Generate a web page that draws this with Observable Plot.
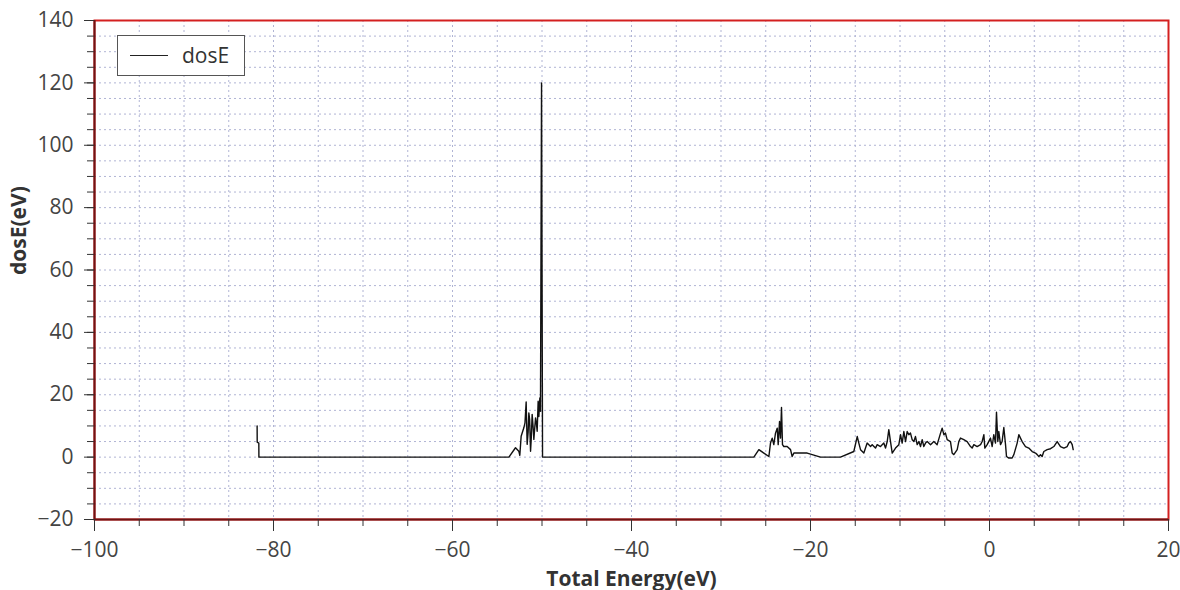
<!DOCTYPE html>
<html>
<head>
<meta charset="utf-8">
<script src="https://cdn.jsdelivr.net/npm/d3@7"></script>
<script src="https://cdn.jsdelivr.net/npm/@observablehq/plot@0.6"></script>
<style>
  html, body { margin: 0; padding: 0; background: #fff; }
  #wrap { position: relative; width: 1180px; height: 590px; font-family: "Open Sans", "Noto Sans", sans-serif; }
  #legend { position: absolute; left: 117px; top: 35px; width: 126px; height: 39px; border: 1.5px solid #555; background: #fff; }
  #legend .swatch { position: absolute; left: 12px; top: 19px; width: 38px; height: 0; border-top: 1.5px solid #222; }
  #legend .lbl { position: absolute; left: 64px; top: 4px; font-size: 21px; color: #333; line-height: 30px; }
</style>
</head>
<body>
<div id="wrap"><div id="legend"><div class="swatch"></div><div class="lbl">dosE</div></div></div>
<script>
// Total energy (eV)
const energy = [
  -81.83, -81.82, -81.64, -81.63,
  -53.70, -52.96, -52.59, -52.48, -52.33, -52.03, -51.90, -51.77, -51.66, -51.55, -51.47,
  -51.38, -51.28, -51.20, -51.10, -51.00, -50.91, -50.82, -50.72, -50.63, -50.54, -50.43,
  -50.35, -50.24, -50.17, -50.05, -49.94,
  -26.33, -25.77, -25.21, -24.65, -24.47, -24.28, -24.10, -23.91, -23.72, -23.61, -23.46,
  -23.35, -23.24, -23.13, -22.98, -22.61, -22.23, -22.05, -21.86, -20.37, -18.88, -16.65,
  -15.16, -14.78, -14.60, -14.41, -14.04, -13.67, -13.29, -13.11, -12.74, -12.55, -12.18,
  -11.81, -11.62, -11.43, -11.25, -11.06, -10.87, -10.50, -10.13, -9.94, -9.76, -9.57,
  -9.38, -9.20, -9.01, -8.83, -8.64, -8.45, -8.27, -8.08, -7.89, -7.71, -7.52, -7.34,
  -7.15, -6.96, -6.59, -6.22, -5.85,
  -5.47, -5.29, -5.10, -4.92, -4.73, -4.36, -4.17, -3.99, -3.61, -3.43, -3.24, -2.87,
  -2.50, -2.12, -1.94, -1.75, -1.38, -1.00, -0.82, -0.63, -0.52, -0.26, 0.11, 0.30,
  0.48, 0.67, 0.78, 0.93, 1.04, 1.23, 1.41, 1.60, 1.79, 1.90, 2.16, 2.53, 2.72, 3.09,
  3.28, 3.46, 3.65, 4.02, 4.39, 4.77, 5.14, 5.33, 5.51, 5.70, 5.88, 6.07, 6.44, 6.82,
  7.19, 7.56, 7.93, 8.31, 8.68, 8.86, 9.05, 9.24, 9.35
];
// dosE (eV)
const dosE = [
  10.0, 4.8, 4.5, 0,
  0, 3.0, 1.9, 0.6, 6.7, 9.4, 11.0, 17.7, 4.1, 8.0, 14.2,
  12.0, 1.9, 6.0, 13.7, 10.0, 5.7, 9.0, 12.6, 11.0, 8.3, 17.9,
  13.0, 19.0, 14.7, 120.0, 0,
  0, 2.4, 1.3, 0.2, 4.5, 6.1, 4.0, 7.7, 9.3, 4.0, 11.4,
  6.1, 15.9, 4.0, 3.4, 3.4, 2.4, 0.2, 1.3, 1.3, 0, 0,
  1.8, 6.6, 4.5, 2.4, 1.3, 4.5, 3.4, 4.0, 2.9, 4.0, 3.4,
  4.5, 2.9, 5.0, 8.8, 5.0, 1.3, 2.9, 4.0, 7.2, 4.5, 8.2,
  5.0, 8.2, 7.2, 7.7, 5.6, 5.0, 6.6, 4.0, 5.0, 3.4, 5.6, 3.4,
  4.5, 5.0, 4.0, 5.0, 4.0,
  7.7, 9.3, 7.2, 7.7, 5.6, 5.0, 1.3, 0.8, 2.4, 5.0, 6.1, 5.6,
  5.0, 3.4, 2.9, 4.0, 3.4, 4.0, 5.0, 7.2, 2.9, 4.0, 6.1, 3.4,
  7.2, 4.5, 14.4, 5.0, 8.2, 4.0, 5.0, 9.5, 4.0, 0.2, -0.3, -0.3, 0.8, 4.5,
  7.2, 6.1, 5.0, 3.4, 2.9, 1.8, 1.3, 0.8, 0.2, 0.8, 0.2, 1.8, 2.4, 2.7,
  3.4, 5.0, 3.4, 2.9, 3.4, 4.5, 5.0, 4.0, 2.4
];
const xMajor = [-100, -80, -60, -40, -20, 0, 20];
const yMajor = [-20, 0, 20, 40, 60, 80, 100, 120, 140];
const xMinor = d3.range(-100, 20.1, 5);
const yMinor = d3.range(-20, 140.1, 5);
const xTitle = "Total Energy(eV)";
const yTitle = "dosE(eV)";

const data = energy.map((e, i) => ({e, d: dosE[i]}));
const fmt = d3.format("d");

const chart = Plot.plot({
  width: 1180,
  height: 590,
  marginLeft: 94,
  marginRight: 12,
  marginTop: 20,
  marginBottom: 71,
  style: {fontFamily: "'Open Sans', 'Noto Sans', sans-serif", fontSize: "21px", color: "#444", background: "transparent"},
  x: {domain: [-100, 20]},
  y: {domain: [-20, 140]},
  marks: [
    Plot.gridX(xMinor, {stroke: "#b0b4d4", strokeOpacity: 1, strokeDasharray: "2,3"}),
    Plot.gridY(yMinor, {stroke: "#b0b4d4", strokeOpacity: 1, strokeDasharray: "2,3"}),
    Plot.line(data, {x: "e", y: "d", stroke: "#111", strokeWidth: 1.4}),
    Plot.frame({stroke: "#d42020", strokeWidth: 2}),
    Plot.ruleX([-100], {stroke: "#6e1414", strokeWidth: 2}),
    Plot.ruleY([-20], {stroke: "#6e1414", strokeWidth: 2}),
    Plot.axisX(xMinor, {tickSize: 7, tickFormat: () => "", stroke: "#333", label: null}),
    Plot.axisX(xMajor, {tickSize: 12, tickPadding: 11, tickFormat: fmt, stroke: "#333", fill: "#444", label: null}),
    Plot.axisY(yMinor, {tickSize: 7, tickFormat: () => "", stroke: "#333", label: null}),
    Plot.axisY(yMajor, {tickSize: 10, tickPadding: 11, tickFormat: fmt, stroke: "#333", fill: "#444", label: null}),
    Plot.text([xTitle], {frameAnchor: "bottom", dy: 66, text: d => d, fontWeight: "bold", fontSize: 21, fill: "#333"}),
    Plot.text([yTitle], {frameAnchor: "left", dx: -75, dy: 5, rotate: -90, text: d => d, fontWeight: "bold", fontSize: 21, fill: "#333"})
  ]
});
chart.style.position = "absolute";
chart.style.left = "0";
chart.style.top = "0";
const wrap = document.getElementById("wrap");
wrap.insertBefore(chart, wrap.firstChild);
</script>
</body>
</html>
